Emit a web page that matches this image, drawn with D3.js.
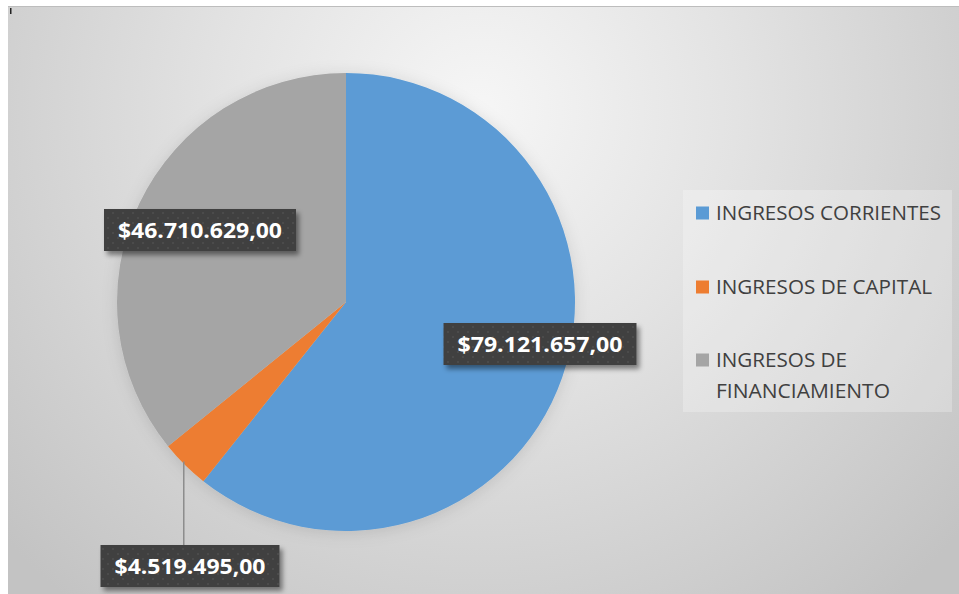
<!DOCTYPE html>
<html>
<head>
<meta charset="utf-8">
<script src="https://cdn.jsdelivr.net/npm/d3@7"></script>
<style>
  html, body { margin: 0; padding: 0; background: #ffffff; }
  svg { display: block; }
</style>
</head>
<body>
<svg id="chart" width="959" height="594"></svg>
<script>
// data
const categories = ["INGRESOS CORRIENTES", "INGRESOS DE CAPITAL", "INGRESOS DE FINANCIAMIENTO"];
const values = [79121657, 4519495, 46710629];
const valueLabels = ["$79.121.657,00", "$4.519.495,00", "$46.710.629,00"];
const legendLines = [["INGRESOS CORRIENTES"], ["INGRESOS DE CAPITAL"], ["INGRESOS DE", "FINANCIAMIENTO"]];
const colors = ["#5b9bd5", "#ed7d31", "#a5a5a5"];

const W = 959, H = 594;
const svg = d3.select("#chart");
const defs = svg.append("defs");

// background gradient like the office radial style
const bg = defs.append("radialGradient")
    .attr("id", "bgGrad")
    .attr("gradientUnits", "userSpaceOnUse")
    .attr("cx", 480).attr("cy", 110).attr("r", 640);
bg.append("stop").attr("offset", "0%").attr("stop-color", "#f6f6f6");
bg.append("stop").attr("offset", "40%").attr("stop-color", "#e3e3e3");
bg.append("stop").attr("offset", "100%").attr("stop-color", "#c3c3c3");

// dotted texture for the data labels
const pat = defs.append("pattern")
    .attr("id", "dots")
    .attr("patternUnits", "userSpaceOnUse")
    .attr("width", 10).attr("height", 10);
pat.append("rect").attr("width", 10).attr("height", 10).attr("fill", "#3f3f3f");
pat.append("circle").attr("cx", 3).attr("cy", 3).attr("r", 1.3).attr("fill", "#4c4c4c");
pat.append("circle").attr("cx", 8).attr("cy", 8).attr("r", 1.3).attr("fill", "#4c4c4c");

const sh = defs.append("filter").attr("id", "shadow")
    .attr("x", "-20%").attr("y", "-30%").attr("width", "150%").attr("height", "180%");
sh.append("feDropShadow").attr("dx", 3).attr("dy", 4).attr("stdDeviation", 2.5)
    .attr("flood-color", "#000").attr("flood-opacity", 0.45);

const pieShadow = defs.append("filter").attr("id", "pieShadow")
    .attr("x", "-20%").attr("y", "-20%").attr("width", "140%").attr("height", "140%");
pieShadow.append("feDropShadow").attr("dx", 0).attr("dy", 2).attr("stdDeviation", 8)
    .attr("flood-color", "#000").attr("flood-opacity", 0.12);

// chart area
svg.append("rect")
    .attr("x", 8).attr("y", 6).attr("width", W - 8).attr("height", H - 6)
    .attr("fill", "url(#bgGrad)");
svg.append("line")
    .attr("x1", 8).attr("x2", W).attr("y1", 6.5).attr("y2", 6.5)
    .attr("stroke", "#bdbdbd").attr("stroke-width", 1);
// small cursor mark top-left
svg.append("rect").attr("x", 10).attr("y", 8).attr("width", 1.5).attr("height", 6).attr("fill", "#222");

// pie
const cx = 346, cy = 302, R = 229;
const pie = d3.pie().sort(null).value((d) => d)(values);
const arc = d3.arc().innerRadius(0).outerRadius(R);

const g = svg.append("g").attr("transform", `translate(${cx},${cy})`);
g.append("g").attr("filter", "url(#pieShadow)")
    .selectAll("path")
    .data(pie)
    .enter()
    .append("path")
    .attr("d", arc)
    .attr("fill", (d, i) => colors[i]);

// leader line for the small slice
const mid = (pie[1].startAngle + pie[1].endAngle) / 2;
const lx = R * Math.sin(mid) - 1, ly = -R * Math.cos(mid) - 3;
g.append("line")
    .attr("x1", lx).attr("y1", ly)
    .attr("x2", lx).attr("y2", 243)
    .attr("stroke", "#8c8c8c").attr("stroke-width", 1.5);

// data labels (offsets from pie centre)
const labelPos = [[194, 42], [-156, 264], [-146, -72]];
const boxW = [193, 179, 192], boxH = 42;

pie.forEach((d, i) => {
    const [dx, dy] = labelPos[i];
    const lg = g.append("g").attr("transform", `translate(${dx},${dy})`);
    lg.append("rect")
        .attr("x", -boxW[i] / 2).attr("y", -boxH / 2)
        .attr("width", boxW[i]).attr("height", boxH)
        .attr("fill", "url(#dots)")
        .attr("filter", "url(#shadow)");
    lg.append("text")
        .attr("text-anchor", "middle")
        .attr("dy", "0.36em")
        .attr("fill", "#ffffff")
        .style("font-family", "'Open Sans', sans-serif")
        .style("font-weight", 700)
        .style("font-size", "22px")
        .attr("textLength", boxW[i] - 28)
        .attr("lengthAdjust", "spacingAndGlyphs")
        .text(valueLabels[i]);
});

// legend
svg.append("rect")
    .attr("x", 683).attr("y", 190).attr("width", 269).attr("height", 222)
    .attr("fill", "#ffffff").attr("fill-opacity", 0.25);

const legendY = [213, 287, 360];
const legendW = [[225], [216], [131, 174]];
const leg = svg.append("g");
categories.forEach((c, i) => {
    leg.append("rect")
        .attr("x", 696).attr("y", legendY[i] - 6.5)
        .attr("width", 13).attr("height", 13)
        .attr("fill", colors[i]);
    legendLines[i].forEach((line, j) => {
        leg.append("text")
            .attr("x", 716).attr("y", legendY[i] + j * 31)
            .attr("dy", "0.36em")
            .attr("fill", "#404040")
            .style("font-family", "'Open Sans', sans-serif")
            .style("font-size", "20px")
            .attr("textLength", legendW[i][j])
            .attr("lengthAdjust", "spacingAndGlyphs")
            .text(line);
    });
});
</script>
</body>
</html>
